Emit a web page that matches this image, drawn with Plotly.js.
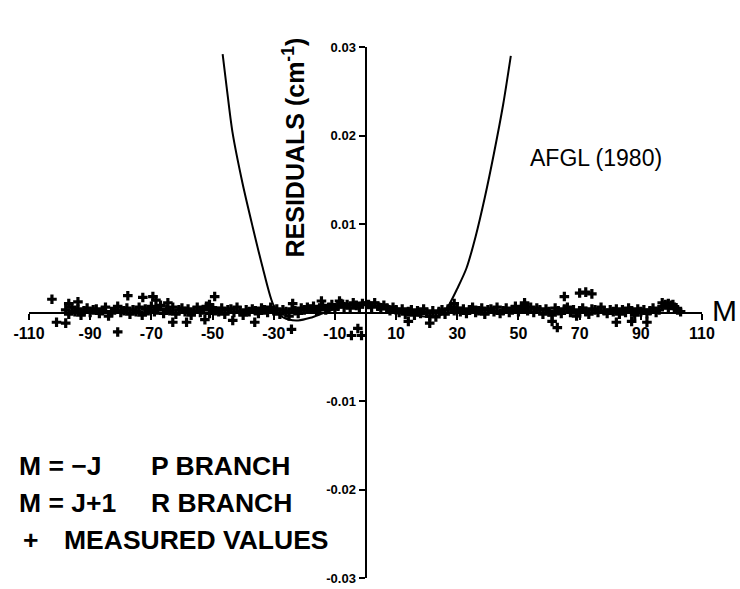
<!DOCTYPE html>
<html>
<head>
<meta charset="utf-8">
<script src="https://cdn.plot.ly/plotly-3.0.1.min.js"></script>
<style>html,body{margin:0;padding:0;background:#fff;}#chart{width:740px;height:589px;}</style>
</head>
<body>
<div id="chart"></div>
<script>
// Model curve (AFGL 1980 residuals)
var curveM = [-46.7,-45.4,-43.5,-40.2,-36.9,-33.7,-30.4,-28,-25,-22,-18,-14,-10,-6,-3,0,3,6,10,14,18,22,25,27.5,30,33,36,39,42,45,47.5];
var curveV = [0.0292,0.0255,0.0204,0.0146,0.0097,0.0052,0.0011,-0.0003,-0.0008,-0.0009,-0.0006,-0.0001,0.0004,0.0009,0.0011,0.0012,0.0011,0.0009,0.0005,0.0000,-0.0004,-0.0005,-0.0002,0.0010,0.0027,0.0050,0.0086,0.0130,0.0180,0.0235,0.0290];

// Measured values, P branch (M = -J), band near the axis
var pM = [];
for (var m = -98; m <= -1; m++) pM.push(m);
var pV = [
 0.0003,-0.0002,0.0006,0.0001,0.0004,-0.0003,0.0002,0.0005,0.0000,0.0003,
 0.0004,-0.0001,0.0002,0.0006,-0.0004,0.0001,0.0003,0.0007,0.0000,0.0002,
 0.0005,-0.0002,0.0003,0.0001,0.0006,-0.0003,0.0004,0.0002,0.0007,0.0001,
 0.0003,0.0008,-0.0001,0.0004,0.0002,0.0006,-0.0002,0.0003,0.0005,0.0001,
 0.0004,-0.0003,0.0002,0.0006,0.0000,0.0003,0.0007,-0.0001,0.0004,0.0002,
 0.0001,0.0005,-0.0002,0.0003,0.0004,0.0000,0.0006,0.0002,-0.0003,0.0003,
 0.0001,0.0004,0.0002,-0.0001,0.0005,0.0003,0.0000,0.0006,0.0002,0.0004,
 -0.0002,0.0003,0.0001,-0.0004,0.0004,0.0002,-0.0001,0.0005,0.0003,0.0006,
 0.0004,0.0007,0.0002,0.0005,0.0008,0.0003,0.0006,0.0009,0.0004,0.0007,
 0.0010,0.0006,0.0009,0.0005,0.0011,0.0008,0.0006,0.0010
];

// Measured values, R branch (M = J+1)
var rM = [];
for (var k = 1; k <= 103; k++) rM.push(k);
var rV = [
 0.0009,0.0006,0.0011,0.0007,0.0004,0.0008,0.0005,0.0002,0.0006,0.0003,
 0.0000,0.0004,-0.0002,0.0001,0.0003,-0.0003,0.0002,-0.0001,0.0004,0.0000,
 -0.0004,0.0002,-0.0005,0.0001,0.0003,-0.0002,0.0004,0.0006,0.0002,0.0005,
 0.0001,0.0004,-0.0001,0.0003,0.0006,0.0000,0.0002,0.0005,-0.0002,0.0003,
 0.0004,0.0001,0.0006,-0.0001,0.0002,0.0005,0.0000,0.0003,0.0007,0.0001,
 0.0004,0.0008,0.0002,0.0006,0.0000,0.0005,0.0003,-0.0002,0.0004,0.0001,
 -0.0003,0.0005,0.0002,-0.0001,0.0004,0.0006,0.0000,0.0003,-0.0004,0.0002,
 0.0005,0.0001,-0.0002,0.0004,0.0003,0.0000,0.0006,0.0002,-0.0001,0.0003,
 0.0001,0.0004,-0.0002,0.0003,0.0000,0.0005,0.0002,-0.0003,0.0004,0.0001,
 0.0003,-0.0001,0.0002,0.0005,0.0000,0.0003,0.0007,0.0009,0.0005,0.0008,
 0.0006,0.0003,0.0001
];

// Scattered measured values away from the band
var oM = [-102.5,-97,-94,-77.7,-72.8,-69.5,-68.5,-64.6,-49.3,-51,-23.8,-14.4,-8.5,
          -101,-98,-81,-63,-58.5,-52.5,-43.4,-36.2,-24.2,-4.6,-1.3,-2.5,
          29,52,65,70,72,74,97,99,100.5,
          14,21,61,62.7,82,87,92];
var oV = [0.0015,0.0010,0.0012,0.0019,0.0017,0.0018,0.0014,0.0011,0.0018,0.0009,0.0010,0.0013,0.0013,
          -0.0011,-0.0012,-0.0022,-0.0011,-0.0011,-0.0008,-0.0009,-0.0011,-0.0019,-0.0026,-0.0026,-0.0018,
          0.0010,0.0011,0.0018,0.0022,0.0023,0.0021,0.0011,0.0010,0.0009,
          -0.0010,-0.0012,-0.0010,-0.0017,-0.0011,-0.0010,-0.0011];

var xTicks = [-110,-90,-70,-50,-30,-10,10,30,50,70,90,110];
var xTickText = ["-110","-90","-70","-50","-30","-10","10","30","50","70","90","110"];
var yTicks = [-0.03,-0.02,-0.01,0.01,0.02,0.03];
var yTickText = ["-0.03","-0.02","-0.01","0.01","0.02","0.03"];

var FONT = "Liberation Sans, Arial, sans-serif";
var mk = {symbol: 'cross', size: 8, color: '#000'};

var data = [
  {x: curveM, y: curveV, type: 'scatter', mode: 'lines', line: {color: '#000', width: 2, shape: 'spline', smoothing: 0.8}, hoverinfo: 'skip'},
  {x: pM, y: pV, type: 'scatter', mode: 'markers', marker: mk},
  {x: rM, y: rV, type: 'scatter', mode: 'markers', marker: mk},
  {x: oM, y: oV, type: 'scatter', mode: 'markers', marker: mk}
];

var axX = {
  range: [-110, 110], anchor: 'free', position: 0.5,
  showline: true, linecolor: '#000', linewidth: 2,
  showgrid: false, zeroline: false,
  tickmode: 'array', tickvals: xTicks, ticktext: xTickText,
  ticks: 'outside', ticklen: 6, tickwidth: 2, tickcolor: '#000',
  tickfont: {family: FONT, size: 16, color: '#000', weight: 'bold'}
};
var axX2 = {
  range: [-110, 110], overlaying: 'x', anchor: 'free', position: 0.5,
  showline: false, showgrid: false, zeroline: false, showticklabels: false,
  tickmode: 'array', tickvals: xTicks,
  ticks: 'inside', ticklen: 6, tickwidth: 2, tickcolor: '#000'
};
var axY = {
  range: [-0.03, 0.03], anchor: 'free', position: 0.5,
  showline: true, linecolor: '#000', linewidth: 2,
  showgrid: false, zeroline: false,
  tickmode: 'array', tickvals: yTicks, ticktext: yTickText,
  ticks: 'outside', ticklen: 6, tickwidth: 2, tickcolor: '#000',
  tickfont: {family: FONT, size: 13, color: '#000', weight: 'bold'}
};
var axY2 = {
  range: [-0.03, 0.03], overlaying: 'y', anchor: 'free', position: 0.5, side: 'left',
  showline: false, showgrid: false, zeroline: false, showticklabels: false,
  tickmode: 'array', tickvals: yTicks,
  ticks: 'inside', ticklen: 6, tickwidth: 2, tickcolor: '#000'
};

function ann(text, x, y, size, opts) {
  var a = {text: text, x: x, y: y, xref: 'paper', yref: 'paper', showarrow: false,
           xanchor: 'left', yanchor: 'middle',
           font: {family: FONT, size: size, color: '#000', weight: 'bold'}};
  for (var k in (opts || {})) a[k] = opts[k];
  return a;
}

var layout = {
  width: 740, height: 589,
  margin: {l: 29, r: 38, t: 47, b: 11},
  paper_bgcolor: '#fff', plot_bgcolor: '#fff',
  showlegend: false,
  xaxis: axX, xaxis2: axX2, yaxis: axY, yaxis2: axY2,
  annotations: [
    {text: 'RESIDUALS (cm<sup>-1</sup>)', x: -23.5, y: 0.0186, xref: 'x', yref: 'y', showarrow: false,
     textangle: -90, xanchor: 'center', yanchor: 'middle',
     font: {family: FONT, size: 25, color: '#000', weight: 'bold'}},
    {text: 'AFGL (1980)', x: 75.5, y: 0.0175, xref: 'x', yref: 'y', showarrow: false,
     xanchor: 'center', yanchor: 'middle', font: {family: FONT, size: 23, color: '#000'}},
    ann('M', 1.033, 0.503, 30, {xanchor: 'center', font: {family: FONT, size: 30, color: '#000'}}),
    ann('M = \u2212J', -0.018, 0.211, 26.5),
    ann('P BRANCH', 0.178, 0.211, 26.5),
    ann('M = J+1', -0.018, 0.141, 26.5),
    ann('R BRANCH', 0.178, 0.141, 26.5),
    ann('+', -0.012, 0.071, 26.5),
    ann('MEASURED VALUES', 0.049, 0.071, 26.5)
  ]
};

Plotly.newPlot('chart', data, layout, {staticPlot: true, displayModeBar: false});
</script>
</body>
</html>
